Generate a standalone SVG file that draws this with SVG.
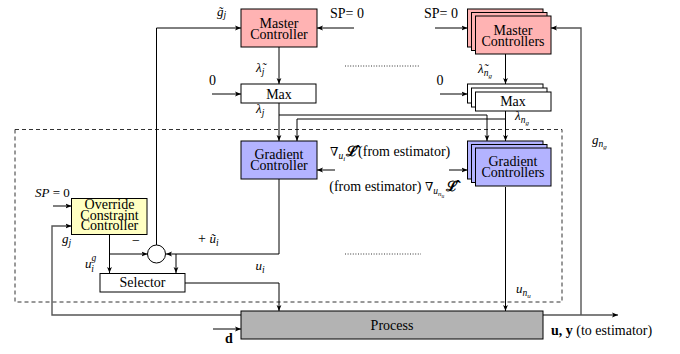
<svg xmlns="http://www.w3.org/2000/svg" width="680" height="354" viewBox="0 0 680 354" font-family="'Liberation Serif', 'DejaVu Serif', serif">
  <style>
    text { font-family: 'Liberation Serif', 'DejaVu Serif', serif; font-size: 14px; fill: #000; }
    .c { text-anchor: middle; }
    .i { font-style: italic; font-size: 13px; }
    .s { font-style: italic; font-size: 9.5px; }
    .ss { font-style: italic; font-size: 7px; }
    .up { font-style: normal; }
    .box { stroke: #000; stroke-width: 1; }
    .mc { fill: #ffb3b3; }
    .gc { fill: #b3b3ff; }
    .oc { fill: #ffffc2; }
    .pr { fill: #b3b3b3; }
    .wh { fill: #fff; }
    .ln { fill: none; stroke: #000; stroke-width: 1; }
    .fb { fill: none; stroke: #555; stroke-width: 1.4; }
    .dot { fill: none; stroke: #000; stroke-width: 0.8; stroke-dasharray: 1 1.6; }
    .dash { fill: none; stroke: #333; stroke-width: 1; stroke-dasharray: 4 3; }
  </style>
  <defs>
    <marker id="ar" viewBox="0 0 6 6" refX="6" refY="3" markerWidth="6" markerHeight="6" markerUnits="userSpaceOnUse" orient="auto">
      <path d="M0,0.6 L6,3 L0,5.4 L1.4,3 Z" fill="#000"/>
    </marker>
  </defs>

  <!-- local control loop boundary -->
  <rect class="dash" x="15" y="129.5" width="547" height="172.5"/>

  <!-- connectors -->
  <g id="connectors">
    <!-- master j -->
    <path class="ln" d="M156.5,245 V28 H241" marker-end="url(#ar)"/>
    <path class="ln" d="M354,28 H317" marker-end="url(#ar)"/>
    <path class="ln" d="M279,47 V84" marker-end="url(#ar)"/>
    <path class="ln" d="M212,94 H241" marker-end="url(#ar)"/>
    <path class="ln" d="M279,103 V141" marker-end="url(#ar)"/>
    <path class="ln" d="M279,115 H487 V141" marker-end="url(#ar)"/>
    <!-- master n_g -->
    <path class="ln" d="M435,28 H467.5" marker-end="url(#ar)"/>
    <path class="fb" d="M581,315 V28 H551" marker-end="url(#ar)"/>
    <path class="ln" d="M505.5,54 V84" marker-end="url(#ar)"/>
    <path class="ln" d="M440,94 H467.5" marker-end="url(#ar)"/>
    <path class="ln" d="M505.5,111 V141" marker-end="url(#ar)"/>
    <path class="ln" d="M505.5,119 H297 V141" marker-end="url(#ar)"/>
    <!-- gradient inputs -->
    <path class="ln" d="M335,170 H317" marker-end="url(#ar)"/>
    <path class="ln" d="M449,170 H467.5" marker-end="url(#ar)"/>
    <!-- gradient outputs -->
    <path class="ln" d="M279,179 V254 H166" marker-end="url(#ar)"/>
    <path class="ln" d="M176,254 V273" marker-end="url(#ar)"/>
    <path class="ln" d="M505.5,187 V311" marker-end="url(#ar)"/>
    <!-- override -->
    <path class="ln" d="M53,206 H71.5" marker-end="url(#ar)"/>
    <path class="fb" d="M241,315 H52 V226 H71.5" marker-end="url(#ar)"/>
    <path class="ln" d="M109.5,234.5 V273" marker-end="url(#ar)"/>
    <path class="ln" d="M109.5,254 H147.5" marker-end="url(#ar)"/>
    <!-- selector to process -->
    <path class="ln" d="M185,283 H279 V311" marker-end="url(#ar)"/>
    <!-- process -->
    <path class="ln" d="M213,329 H241" marker-end="url(#ar)"/>
    <path class="fb" d="M543,315 H618" marker-end="url(#ar)"/>
    <!-- elided controllers -->
    <path class="dot" d="M345,66 H420"/>
    <path class="dot" d="M345,254 H421"/>
  </g>

  <g id="master-controller">
    <rect class="box mc" x="241" y="9" width="76" height="38"/>
    <text class="c" x="279" y="27.5">Master<tspan x="279" dy="11">Controller</tspan></text>
  </g>

  <g id="max">
    <rect class="box wh" x="241" y="84" width="75" height="19"/>
    <text class="c" x="279" y="98.5">Max</text>
  </g>

  <g id="master-controllers">
    <rect class="box mc" x="467.5" y="9" width="75.5" height="38"/>
    <rect class="box mc" x="471.5" y="12.5" width="75.5" height="38"/>
    <rect class="box mc" x="475.5" y="16" width="75.5" height="38"/>
    <text class="c" x="513" y="34.5">Master<tspan x="513" dy="11">Controllers</tspan></text>
  </g>

  <g id="max-stack">
    <rect class="box wh" x="467.5" y="84" width="75.5" height="19"/>
    <rect class="box wh" x="471.5" y="88" width="75.5" height="19"/>
    <rect class="box wh" x="475.5" y="92" width="75.5" height="19"/>
    <text class="c" x="513" y="106">Max</text>
  </g>

  <g id="gradient-controller">
    <rect class="box gc" x="241" y="141" width="76" height="38"/>
    <text class="c" x="279" y="159.3">Gradient<tspan x="279" dy="10.7">Controller</tspan></text>
  </g>

  <g id="gradient-controllers">
    <rect class="box gc" x="467.5" y="141" width="75.5" height="38"/>
    <rect class="box gc" x="471.5" y="144.5" width="75.5" height="38"/>
    <rect class="box gc" x="475.5" y="148" width="75.5" height="38"/>
    <text class="c" x="513" y="166.3">Gradient<tspan x="513" dy="10.7">Controllers</tspan></text>
  </g>

  <g id="override-controller">
    <rect class="box oc" x="71.5" y="198.5" width="75.5" height="36"/>
    <text class="c" x="109.5" y="209.3">Override<tspan x="109.5" dy="10.3">Constraint</tspan><tspan x="109.5" dy="10.4">Controller</tspan></text>
  </g>

  <g id="sum">
    <circle class="box wh" cx="156.5" cy="254" r="9"/>
  </g>

  <g id="selector">
    <rect class="box wh" x="100" y="273.5" width="85" height="18.5"/>
    <text class="c" x="142.5" y="287">Selector</text>
  </g>

  <g id="process">
    <rect class="box pr" x="241" y="311" width="302" height="28"/>
    <text class="c" x="392" y="329.5">Process</text>
  </g>

  <!-- signal labels -->
  <g id="labels">
    <text class="i" x="217" y="15.5">g̃<tspan class="s" dy="2.5">j</tspan></text>
    <text x="330" y="18">SP= 0</text>
    <text x="424" y="18">SP= 0</text>
    <text class="i" x="256" y="72">λ̃<tspan class="s" dy="3">j</tspan></text>
    <text x="209" y="85">0</text>
    <text class="i" x="256" y="113">λ<tspan class="s" dy="3">j</tspan></text>
    <text class="i" x="478" y="73">λ̃<tspan class="s" dy="3">n</tspan><tspan class="ss" dy="2">g</tspan></text>
    <text x="436.5" y="85">0</text>
    <text class="i" x="515" y="120">λ<tspan class="s" dy="3">n</tspan><tspan class="ss" dy="2">g</tspan></text>
    <!-- gradient of the Lagrangian -->
    <text x="330" y="156"><tspan style="font-size:12px">∇</tspan><tspan class="s" dy="3">u</tspan><tspan class="ss" dy="2">i</tspan><tspan dx="1" dy="-5" font-weight="bold">ℒ̂</tspan>(from estimator)</text>
    <text x="329.3" y="191">(from estimator) <tspan style="font-size:12px">∇</tspan><tspan class="s" dy="3">u</tspan><tspan class="ss" dy="2">n</tspan><tspan class="ss" dy="1.5" style="font-size:5.5px">u</tspan><tspan dx="2" dy="-6.5" font-weight="bold">ℒ̂</tspan></text>
    <text class="i" x="592" y="144">g<tspan class="s" dy="3">n</tspan><tspan class="ss" dy="2">g</tspan></text>
    <!-- override side -->
    <text class="i" x="35" y="197">SP<tspan class="up"> = 0</tspan></text>
    <text class="i" x="62" y="243">g<tspan class="s" dy="3">j</tspan></text>
    <text x="132" y="245">−</text>
    <text class="i" x="85" y="268">u<tspan class="s" dy="-7">g</tspan><tspan class="s" dx="-5" dy="11">i</tspan></text>
    <text x="198" y="243">+ <tspan class="i">ũ</tspan><tspan class="s" dy="3">i</tspan></text>
    <text class="i" x="255.5" y="270">u<tspan class="s" dy="2.5">i</tspan></text>
    <text class="i" x="516" y="293">u<tspan class="s" dy="3">n</tspan><tspan class="ss" dy="2">u</tspan></text>
    <!-- process I/O -->
    <text x="225" y="343" font-weight="bold">d</text>
    <text x="551" y="335"><tspan font-weight="bold">u, y</tspan> (to estimator)</text>
  </g>
</svg>
